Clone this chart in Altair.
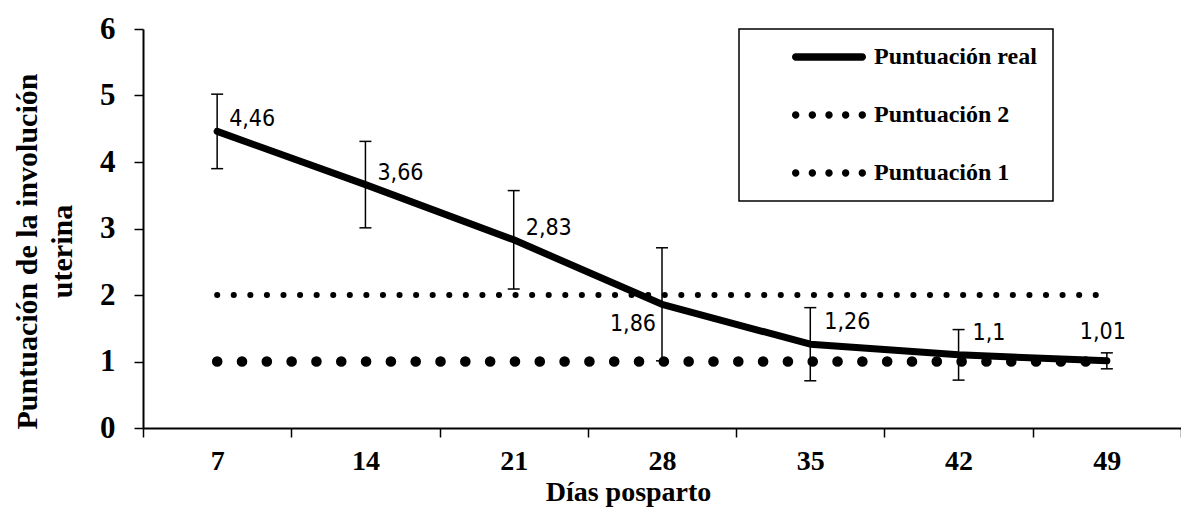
import altair as alt
import pandas as pd

# ---------------- data ----------------
days = [7, 14, 21, 28, 35, 42, 49]
real = [4.46, 3.66, 2.83, 1.86, 1.26, 1.1, 1.01]
err_lo = [3.90, 3.01, 2.09, 1.01, 0.71, 0.72, 0.89]
err_hi = [5.02, 4.31, 3.57, 2.71, 1.81, 1.48, 1.13]
score2 = [2, 2, 2, 2, 2, 2, 2]
score1 = [1, 1, 1, 1, 1, 1, 1]
series_names = ["Puntuación real", "Puntuación 2", "Puntuación 1"]
y_ticks = [0, 1, 2, 3, 4, 5, 6]
x_title = "Días posparto"
y_title = ["Puntuación de la involución", "uterina"]

df = pd.DataFrame({
    "day": days,
    "real": real,
    "lo": err_lo,
    "hi": err_hi,
    "p2": score2,
    "p1": score1,
    "label": [str(v).replace(".", ",") for v in real],
})
legend_df = pd.DataFrame({"serie": series_names})

# ---------------- layout ----------------
W, H = 1038, 399
half = (days[1] - days[0]) / 2
band_px = W / len(days)
line_len = band_px * (len(days) - 1)

SERIF = "Liberation Serif"
LBL = "DejaVu Sans Condensed, DejaVu Sans"

x_ticks = [d - half for d in days] + [days[-1] + half]

x_enc = alt.X(
    "day:Q",
    scale=alt.Scale(domain=[days[0] - half, days[-1] + half], nice=False, zero=False),
    axis=alt.Axis(
        values=x_ticks,
        labelExpr="datum.value < %g ? format(datum.value + %g, 'd') : ''" % (days[-1], half),
        labelOffset=band_px / 2,
        labelFlush=False,
        labelOverlap=False,
        labelBound=False,
        labelFont=SERIF, labelFontWeight="bold", labelFontSize=28, labelPadding=10,
        tickSize=9, tickWidth=1.5, domainWidth=2, grid=False,
        title=x_title, titleFont=SERIF, titleFontWeight="bold", titleFontSize=28,
        titleX=485, titleY=72, titleBaseline="alphabetic", titleAlign="center",
    ),
)


def y_enc(field):
    return alt.Y(
        field + ":Q",
        scale=alt.Scale(domain=[0, 6], nice=False),
        axis=alt.Axis(
            values=y_ticks, format="d",
            labelFont=SERIF, labelFontWeight="bold", labelFontSize=31, labelPadding=19,
            tickSize=9, tickWidth=1.5, domainWidth=2, grid=False,
            title=y_title, titleFont=SERIF, titleFontWeight="bold", titleFontSize=30,
            titleX=-107, titleY=222, titleAngle=270, titleBaseline="alphabetic",
            titleAlign="center", titleLineHeight=35,
        ),
    )


base = alt.Chart(df)

p2_line = base.mark_line(
    color="black", strokeWidth=6, strokeCap="round", strokeDash=[0.1, line_len / 54]
).encode(x=x_enc, y=y_enc("p2"))

p1_line = base.mark_line(
    color="black", strokeWidth=10.5, strokeCap="round", strokeDash=[0.1, line_len / 36]
).encode(x=x_enc, y=y_enc("p1"))

real_line = base.mark_line(
    color="black", strokeWidth=7, strokeCap="round", strokeJoin="round"
).encode(x=x_enc, y=y_enc("real"))

err_rule = base.mark_rule(color="black", strokeWidth=1.5).encode(
    x=x_enc, y=y_enc("lo"), y2="hi:Q"
)
err_lo_tick = base.mark_tick(
    color="black", orient="horizontal", size=12, thickness=1.5, opacity=1
).encode(x=x_enc, y=y_enc("lo"))
err_hi_tick = base.mark_tick(
    color="black", orient="horizontal", size=12, thickness=1.5, opacity=1
).encode(x=x_enc, y=y_enc("hi"))


def labels(sel, align, dx, dy):
    return base.transform_filter(
        alt.FieldOneOfPredicate(field="day", oneOf=sel)
    ).mark_text(
        font=LBL, fontSize=23, color="black", align=align, baseline="middle", dx=dx, dy=dy
    ).encode(x=x_enc, y=y_enc("real"), text="label:N")


lab_a = labels([7, 14, 21], "left", 12, -12)
lab_b = labels([35, 42], "left", 14, -22)
lab_c = labels([28], "right", -6, 20)
lab_d = labels([49], "center", -4, -29)

# ---------------- legend (custom symbols) ----------------
# nominal symbol box is small (keeps rows compact); the drawn path extends to the right
SYM_N = 24.0
U = SYM_N / 2.0
vis_left, vis_right = 25.0, 99.0   # px from the nominal symbol centre
r = 3.7


def u(v):
    return "%.4f" % (v / U)


def line_path():
    x0, x1 = vis_left + r, vis_right - r
    return ("M%s,%s L%s,%s A%s,%s 0 0 1 %s,%s L%s,%s A%s,%s 0 0 1 %s,%s Z" % (
        u(x0), u(-r), u(x1), u(-r), u(r), u(r), u(x1), u(r),
        u(x0), u(r), u(r), u(r), u(x0), u(-r)))


def dots_path():
    parts = []
    step = (vis_right - vis_left - 2 * r) / 4
    for k in range(5):
        cx = vis_left + r + k * step
        parts.append("M%s,0 A%s,%s 0 1 0 %s,0 A%s,%s 0 1 0 %s,0 Z" % (
            u(cx - r), u(r), u(r), u(cx + r), u(r), u(r), u(cx - r)))
    return " ".join(parts)


nbsp = "\u00a0" * 6
legend_layer = alt.Chart(legend_df).transform_filter("false").mark_point(
    filled=True, color="black", opacity=1
).encode(
    shape=alt.Shape(
        "serie:N",
        scale=alt.Scale(domain=series_names, range=[line_path(), dots_path(), dots_path()]),
        legend=alt.Legend(
            title=None, orient="none", legendX=596, legendY=0,
            padding=16, rowPadding=34,
            strokeColor="black", fillColor="white",
            symbolSize=SYM_N * SYM_N, symbolFillColor="black", symbolStrokeWidth=0,
            symbolOpacity=1,
            labelFont=SERIF, labelFontWeight="bold", labelFontSize=24, labelColor="black",
            labelOffset=vis_right + 8 - SYM_N / 2, labelLimit=500,
            labelExpr="datum.label + '" + nbsp + "'",
        ),
    )
)

chart = alt.layer(
    p2_line, p1_line, real_line, err_rule, err_lo_tick, err_hi_tick,
    lab_a, lab_b, lab_c, lab_d, legend_layer,
).properties(
    width=W, height=H,
    padding={"left": 135, "top": 21, "right": 0, "bottom": 81},
    autosize=alt.AutoSizeParams(type="none"),
    background="white",
).configure_view(stroke=None).configure_axis(
    labelColor="black", titleColor="black", tickColor="black", domainColor="black"
).configure_legend(strokeWidth=1.5)

chart.save("out.html", embed_options={"renderer": "svg", "actions": False})
